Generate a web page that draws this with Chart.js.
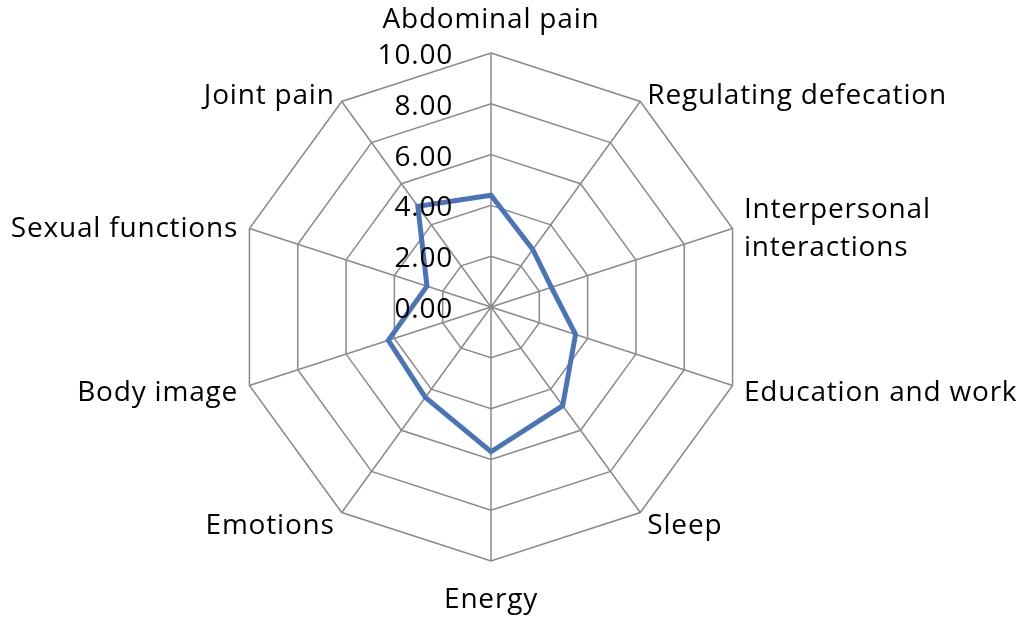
<!DOCTYPE html>
<html>
<head>
<meta charset="utf-8">
<script src="https://cdn.jsdelivr.net/npm/chart.js@4"></script>
<style>
    html, body { margin: 0; padding: 0; background: #fff; }
    #wrap { width: 1036px; height: 624px; }
</style>
</head>
<body>
<div id="wrap"><canvas id="radarChart" width="1036" height="624"></canvas></div>
<script>
// categories, clockwise from the top
const categories = [
    'Abdominal pain',
    'Regulating defecation',
    ['Interpersonal', 'interactions'],
    'Education and work',
    'Sleep',
    'Energy',
    'Emotions',
    'Body image',
    'Sexual functions',
    'Joint pain'
];
const scores = [4.4, 2.8, 2.5, 3.5, 4.8, 5.7, 4.4, 4.25, 2.65, 4.9];
const tickValues = [0, 2, 4, 6, 8, 10];

const FONT = "'Open Sans', sans-serif";
const FONT_SIZE = 28;
const LINE_HEIGHT = 38;

// tick labels sit left of the vertical axis, like the original
// and the category labels are hung off the outer ring the way excel does it
const labelPlugin = {
    id: 'radarLabels',
    afterDraw(chart) {
        const scale = chart.scales.r;
        const ctx = chart.ctx;
        ctx.save();
        ctx.font = FONT_SIZE + 'px ' + FONT;
        ctx.fillStyle = '#000';
        ctx.textBaseline = 'alphabetic';
        if ('letterSpacing' in ctx) ctx.letterSpacing = '0.8px';

        // tick values
        ctx.textAlign = 'right';
        tickValues.forEach(v => {
            const d = scale.getDistanceFromCenterForValue(v);
            ctx.fillText(v.toFixed(2), scale.xCenter - 38, scale.yCenter - d + 11);
        });

        // category labels
        categories.forEach((label, i) => {
            const pos = scale.getPointPosition(i, scale.drawingArea + 12);
            const dx = pos.x - scale.xCenter;
            const dy = pos.y - scale.yCenter;
            const lines = Array.isArray(label) ? label : [label];
            let baseY = pos.y + 12;
            if (Math.abs(dx) < 1) {
                ctx.textAlign = 'center';
                baseY = dy < 0 ? pos.y - 13 : pos.y + 35;
            } else {
                ctx.textAlign = dx > 0 ? 'left' : 'right';
            }
            lines.forEach((line, k) => {
                const off = (k - (lines.length - 1) / 2) * LINE_HEIGHT;
                ctx.fillText(line, pos.x, baseY + off);
            });
        });
        ctx.restore();
    }
};

const ctx = document.getElementById('radarChart').getContext('2d');
new Chart(ctx, {
    type: 'radar',
    data: {
        labels: categories,
        datasets: [{
            data: scores,
            borderColor: '#4a73b8',
            backgroundColor: 'rgba(0,0,0,0)',
            borderWidth: 5,
            pointRadius: 0,
            fill: false
        }]
    },
    options: {
        responsive: false,
        animation: false,
        layout: {padding: {top: 53, bottom: 63, left: 0, right: 54}},
        plugins: {
            legend: {display: false},
            tooltip: {enabled: false}
        },
        scales: {
            r: {
                min: 0,
                max: 10,
                ticks: {stepSize: 2, display: false},
                grid: {color: '#8a8a8a', lineWidth: 1.5},
                angleLines: {color: '#8a8a8a', lineWidth: 1.5},
                pointLabels: {display: false}
            }
        }
    },
    plugins: [labelPlugin]
});
</script>
</body>
</html>
